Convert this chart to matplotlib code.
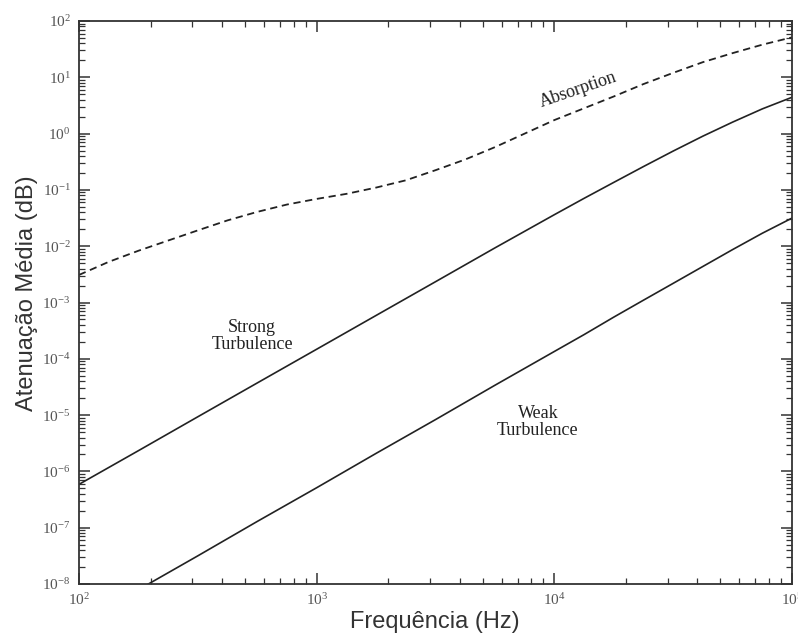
import numpy as np
import matplotlib
matplotlib.use('Agg')
import matplotlib.pyplot as plt
from matplotlib.ticker import LogLocator, LogFormatterMathtext, NullFormatter

plt.rcParams['mathtext.default'] = 'regular'
plt.rcParams['axes.unicode_minus'] = False

# frequência (Hz), passo de 1/8 de década
freq_abs = [100, 133, 178, 237, 316, 422, 562, 750, 1000, 1334, 1778, 2371,
            3162, 4217, 5623, 7499, 10000, 13335, 17783, 23714, 31623,
            42170, 56234, 74989, 100000]
absorption = [3.09e-3, 5.25e-3, 8.32e-3, 1.26e-2, 1.91e-2, 2.88e-2, 4.07e-2,
              5.50e-2, 6.92e-2, 8.51e-2, 0.110, 0.148, 0.224, 0.347, 0.575,
              1.00, 1.74, 2.82, 4.57, 7.59, 12.0, 18.6, 26.9, 38.0, 51.3]

# turbulência: 1/4 de década até 10 kHz, depois 1/8
freq_turb = [100, 178, 316, 562, 1000, 1778, 3162, 5623, 10000, 13335,
             17783, 23714, 31623, 42170, 56234, 74989, 100000]
strong = [5.89e-7, 2.34e-6, 9.33e-6, 3.72e-5, 1.48e-4, 5.89e-4, 2.34e-3,
          9.33e-3, 3.63e-2, 7.08e-2, 0.136, 0.260, 0.490, 0.902, 1.60,
          2.75, 4.42]
weak = [2.0e-9, 7.94e-9, 3.16e-8, 1.29e-7, 5.13e-7, 2.09e-6, 8.32e-6,
        3.39e-5, 1.35e-4, 2.69e-4, 5.50e-4, 1.10e-3, 2.19e-3, 4.37e-3,
        8.71e-3, 1.70e-2, 3.16e-2]

fig = plt.figure(figsize=(7.98, 6.37), dpi=100)
ax = fig.add_axes([0.099, 0.0832, 0.8935, 0.8838])

ax.plot(freq_abs, absorption, color='#222222', lw=1.3, ls=(0, (4, 2.6)))
ax.plot(freq_turb, strong, color='#222222', lw=1.2)
ax.plot(freq_turb, weak, color='#222222', lw=1.2)

ax.set_xscale('log')
ax.set_yscale('log')
ax.set_xlim(1e2, 1e5)
ax.set_ylim(1e-8, 1e2)

for axis in (ax.xaxis, ax.yaxis):
    axis.set_major_locator(LogLocator(base=10, numticks=20))
    axis.set_minor_locator(LogLocator(base=10, subs=np.arange(2, 10), numticks=100))
    axis.set_major_formatter(LogFormatterMathtext())
    axis.set_minor_formatter(NullFormatter())

ax.tick_params(which='both', direction='in', top=True, right=True,
               color='#333333', labelcolor='#555555', labelsize=11,
               labelfontfamily='Liberation Serif')
ax.tick_params(which='major', length=8, width=1.1, pad=6)
ax.tick_params(which='minor', length=4, width=0.9)
for sp in ax.spines.values():
    sp.set_linewidth(1.3)
    sp.set_color('#333333')

serif = dict(family='Liberation Serif', fontsize=13, color='#222222')
ax.text(535, 2.5e-4, 'Strong\nTurbulence', ha='center', va='center',
        linespacing=1.0, **serif)
ax.text(8530, 7.6e-6, 'Weak\nTurbulence', ha='center', va='center',
        linespacing=1.0, **serif)
ax.text(12600, 5.9, 'Absorption', ha='center', va='center', rotation=19,
        **serif)

ax.set_xlabel('Frequência (Hz)', family='Liberation Sans', fontsize=17,
              color='#333333', va='center')
ax.xaxis.set_label_coords(0.499, -0.0675)
ax.set_ylabel('Atenuação Média (dB)', family='Liberation Sans', fontsize=17,
              color='#333333', va='center', ha='center')
ax.yaxis.set_label_coords(-0.073, 0.517)

fig.savefig('out.png', dpi=100)
